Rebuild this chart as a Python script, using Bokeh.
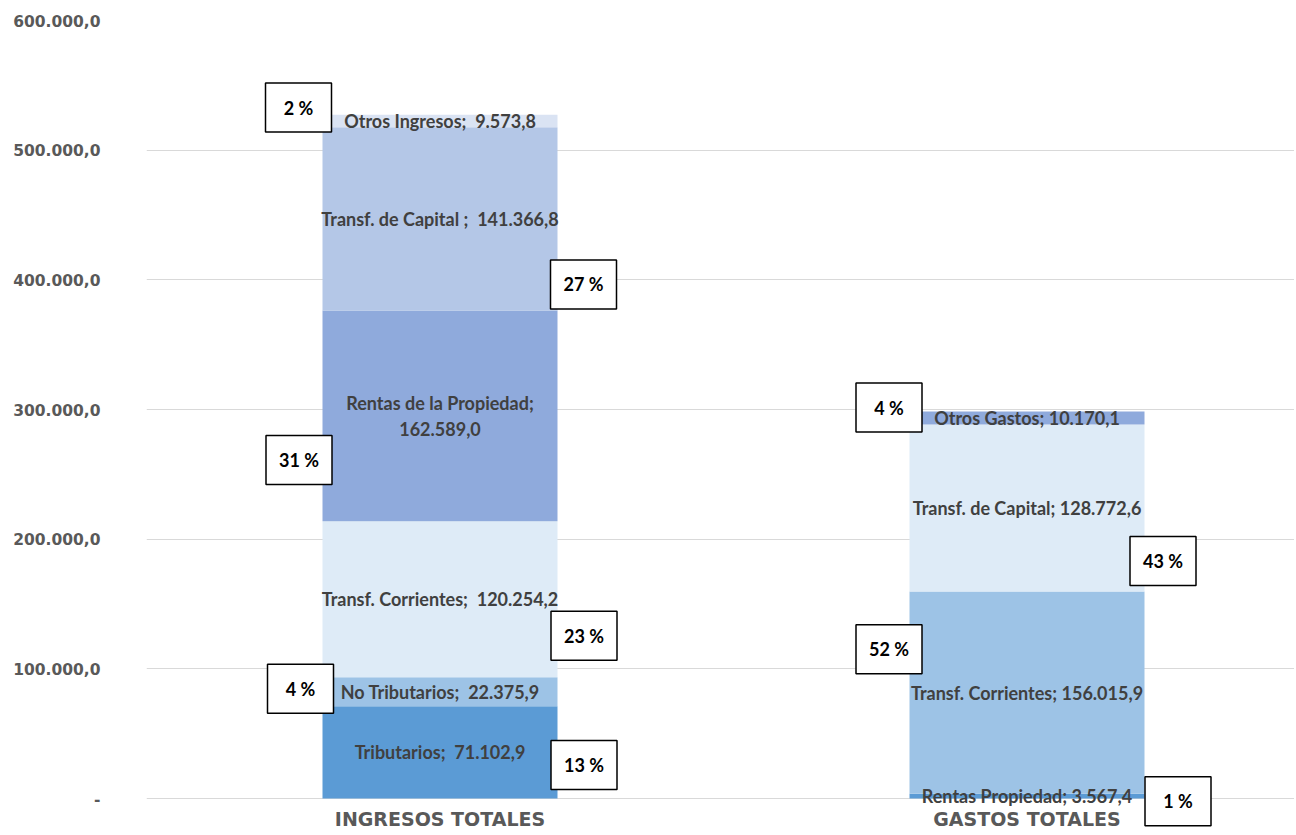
from bokeh.plotting import figure
from bokeh.models import ColumnDataSource, FixedTicker, Range1d
from bokeh.core.properties import value
from bokeh.embed import file_html
from bokeh.resources import INLINE

# ---------------- data ----------------
categories = ["INGRESOS TOTALES", "GASTOS TOTALES"]

ing_names = ["Tributarios", "No Tributarios", "Transf. Corrientes",
             "Rentas de la Propiedad", "Transf. de Capital ", "Otros Ingresos"]
ing_values = [71102.9, 22375.9, 120254.2, 162589.0, 141366.8, 9573.8]
ing_pct = ["13 %", "4 %", "23 %", "31 %", "27 %", "2 %"]

gas_names = ["Rentas Propiedad", "Transf. Corrientes", "Transf. de Capital", "Otros Gastos"]
gas_values = [3567.4, 156015.9, 128772.6, 10170.1]
gas_pct = ["1 %", "52 %", "43 %", "4 %"]

y_ticks = [0, 100000, 200000, 300000, 400000, 500000, 600000]
y_tick_labels = ["-", "100.000,0", "200.000,0", "300.000,0", "400.000,0", "500.000,0", "600.000,0"]

# ---------------- styles / layout ----------------
NB = "\u00a0"
ing_colors = ["#5b9bd5", "#9dc3e6", "#deebf7", "#8faadc", "#b4c7e7", "#dae3f3"]
gas_colors = ["#5b9bd5", "#9dc3e6", "#deebf7", "#8faadc"]
ing_sep = [";" + NB + NB, ";" + NB + NB, ";" + NB + NB, ";\n", ";" + NB + NB, ";" + NB + NB]
gas_sep = ["; ", "; ", "; ", "; "]
# percent box offsets from the segment middle, in screen pixels (dy positive = down)
ing_pct_dx = [144, -139.5, 144, -141, 143.5, -141.5]
ing_pct_dy = [12.5, -3, 36.5, 44, 65.5, -13.5]
gas_pct_dx = [151, -138, 136, -138]
gas_pct_dy = [5, -43.5, 53, -10.5]
cat_label_dy = 20          # px below the zero line

W, H = 1294, 832
BL, BR, BT, BB = 146, 0, 20, 0
CAT_PX = 587.0
ZERO_TO_TOP_PX = 778.0     # pixels from value 0 to value 600000
BELOW_ZERO_PX = 34.0       # frame pixels below the zero line
frame_w = W - BL - BR
x_start = -0.5
x_end = x_start + frame_w / CAT_PX
y_top = 600000
y_per_px = y_top / ZERO_TO_TOP_PX
y_start = -BELOW_ZERO_PX * y_per_px
bar_w = 235.0 / CAT_PX


def fmt(v):
    s = f"{v:,.1f}"
    return s.replace(",", "X").replace(".", ",").replace("X", ".")


p = figure(width=W, height=H, output_backend="svg", toolbar_location=None,
           x_range=Range1d(x_start, x_end), y_range=Range1d(y_start, y_top),
           min_border_left=BL, min_border_right=BR, min_border_top=BT, min_border_bottom=BB)
p.outline_line_color = None
p.background_fill_color = "white"
p.border_fill_color = "white"
p.xgrid.grid_line_color = None
p.ygrid.grid_line_color = "#d9d9d9"
p.ygrid.grid_line_width = 1

xs, bots, tops, cols = [], [], [], []
lx, ly, lt = [], [], []
bx, by, bt = [], [], []

groups = [(0, ing_names, ing_values, ing_colors, ing_sep, ing_pct, ing_pct_dx, ing_pct_dy),
          (1, gas_names, gas_values, gas_colors, gas_sep, gas_pct, gas_pct_dx, gas_pct_dy)]
for xc, names, vals, colors, seps, pcts, dxs, dys in groups:
    base = 0.0
    for n, v, c, s, pc, dx, dy in zip(names, vals, colors, seps, pcts, dxs, dys):
        xs.append(xc); bots.append(base); tops.append(base + v); cols.append(c)
        mid = base + v / 2
        lx.append(xc); ly.append(mid); lt.append(n.replace(" ", NB) + s + fmt(v))
        bx.append(xc + dx / CAT_PX); by.append(mid - dy * y_per_px); bt.append(pc)
        base += v

bars = ColumnDataSource(dict(x=xs, bottom=bots, top=tops, color=cols))
p.vbar(x="x", bottom="bottom", top="top", width=bar_w, fill_color="color",
       line_color=None, source=bars)

labels = ColumnDataSource(dict(x=lx, y=ly, text=lt))
p.text(x="x", y="y", text="text", source=labels, text_align="center",
       text_baseline="middle", text_font=value("Lato"), text_font_style="bold",
       text_font_size="18px", text_color="#404040", text_line_height=1.16)

boxes = ColumnDataSource(dict(x=bx, y=by, text=bt))
p.rect(x="x", y="y", width=66, height=49, width_units="screen", height_units="screen",
       fill_color="white", line_color="black", line_width=1.5, source=boxes)
p.text(x="x", y="y", text="text", source=boxes, text_align="center",
       text_baseline="middle", text_font=value("Lato"), text_font_style="bold",
       text_font_size="18px", text_color="black")

# category labels (drawn below the zero line)
cats = ColumnDataSource(dict(x=[0, 1], y=[-cat_label_dy * y_per_px] * 2, text=categories))
p.text(x="x", y="y", text="text", source=cats, text_align="center",
       text_baseline="middle", text_font=value("DejaVu Sans"), text_font_style="bold",
       text_font_size="19px", text_color="#595959")

p.xaxis.visible = False

p.yaxis.ticker = FixedTicker(ticks=y_ticks)
p.yaxis.major_label_overrides = {t: l for t, l in zip(y_ticks, y_tick_labels)}
p.yaxis.axis_line_color = None
p.yaxis.major_tick_line_color = None
p.yaxis.minor_tick_line_color = None
p.yaxis.major_tick_out = 0
p.yaxis.major_tick_in = 0
p.yaxis.minor_tick_out = 0
p.yaxis.major_label_standoff = 46
p.yaxis.major_label_text_font = "DejaVu Sans"
p.yaxis.major_label_text_font_style = "bold"
p.yaxis.major_label_text_font_size = "15.5px"
p.yaxis.major_label_text_color = "#595959"

open("out.html", "w").write(file_html(p, INLINE))
